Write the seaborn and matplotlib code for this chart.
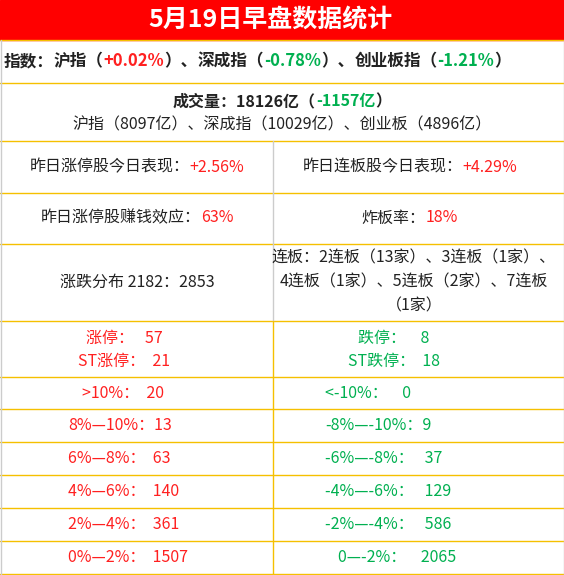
import matplotlib
matplotlib.use("Agg")
import matplotlib.pyplot as plt
import seaborn as sns

sns.set_style("white")
plt.rcParams['font.family'] = ['Noto Sans CJK SC', 'DejaVu Sans']

RED = '#ff2020'
GREEN = '#00b050'
BLACK = '#222222'
GOLD = '#f5c000'
GREY = '#cccccc'
FS = 11.5

title = '5月19日早盘数据统计'
index_names = ['沪指', '深成指', '创业板指']
index_changes = ['+0.02%', '-0.78%', '-1.21%']
volume_total = '18126亿'
volume_change = '-1157亿'
volume_parts = ['沪指（8097亿）', '深成指（10029亿）', '创业板（4896亿）']
yest_limit_perf = '+2.56%'
yest_board_perf = '+4.29%'
money_effect = '63%'
break_rate = '18%'
up_down = '2182：2853'
lianban = ['连板：2连板（13家）、3连板（1家）、', '4连板（1家）、5连板（2家）、7连板', '（1家）']
limit_up = ['涨停：   57', 'ST涨停：  21']
limit_down = ['跌停：    8', 'ST跌停：  18']
up_bins = ['>10%：  20', '8%—10%：13', '6%—8%：  63', '4%—6%：  140', '2%—4%：  361', '0%—2%：  1507']
down_bins = ['<-10%：    0', '-8%—-10%：9', '-6%—-8%：   37', '-4%—-6%：   129', '-2%—-4%：   586', '0—-2%：    2065']

fig = plt.figure(figsize=(5.64, 5.75), dpi=100)
ax = fig.add_axes([0, 0, 1, 1])
ax.set_xlim(0, 564)
ax.set_ylim(575, 0)
ax.axis('off')
fig.canvas.draw()
renderer = fig.canvas.get_renderer()


def segs(x, y, parts, size=FS, ha='center'):
    # parts: list of (text, colour, weight); drawn side by side
    arts = []
    for s, c, w in parts:
        t = ax.text(0, y, s, color=c, fontsize=size, fontweight=w, va='center', ha='left')
        arts.append(t)
    widths = [t.get_window_extent(renderer).width for t in arts]
    total = sum(widths)
    cur = x - total / 2 if ha == 'center' else x
    for t, w in zip(arts, widths):
        t.set_x(cur)
        cur += w


# title bar
ax.add_patch(plt.Rectangle((0, 0), 564, 40, color='#ff0000'))
ax.text(270, 20, title, color='white', fontsize=18, fontweight='bold', ha='center', va='center')

# index row
parts = [('指数：', BLACK, 'bold')]
for i, (n, c) in enumerate(zip(index_names, index_changes)):
    parts.append((n + '（', BLACK, 'bold'))
    parts.append((c, RED if c.startswith('+') else GREEN, 'bold'))
    parts.append(('）' + ('、' if i < 2 else ''), BLACK, 'bold'))
segs(4, 61, parts, size=12, ha='left')

# volume
segs(282, 101, [('成交量：' + volume_total + '（', BLACK, 'bold'), (volume_change, GREEN, 'bold'), ('）', BLACK, 'bold')])
ax.text(282, 125, '、'.join(volume_parts), color=BLACK, fontsize=FS, ha='center', va='center')

segs(137, 167, [('昨日涨停股今日表现：', BLACK, 'normal'), (yest_limit_perf, RED, 'normal')])
segs(410, 167, [('昨日连板股今日表现：', BLACK, 'normal'), (yest_board_perf, RED, 'normal')])
segs(137, 218, [('昨日涨停股赚钱效应：', BLACK, 'normal'), (money_effect, RED, 'normal')])
segs(410, 218, [('炸板率：', BLACK, 'normal'), (break_rate, RED, 'normal')])
ax.text(137, 282, '涨跌分布 ' + up_down, color=BLACK, fontsize=FS, ha='center', va='center')
for i, s in enumerate(lianban):
    ax.text(414, 258 + i * 24, s, color=BLACK, fontsize=FS, ha='center', va='center')

for i, s in enumerate(limit_up):
    ax.text(124, 338 + i * 23, s, color=RED, fontsize=FS, ha='center', va='center')
for i, s in enumerate(limit_down):
    ax.text(394, 338 + i * 23, s, color=GREEN, fontsize=FS, ha='center', va='center')

row_top = [377, 409, 442, 475, 508, 541]
for i, (u, d) in enumerate(zip(up_bins, down_bins)):
    yc = row_top[i] + 16.5
    ax.text(68 if i else 82, yc, u, color=RED, fontsize=FS, ha='left', va='center')
    ax.text(325 if i < 5 else 338, yc, d, color=GREEN, fontsize=FS, ha='left', va='center')

# grid lines
for y in [40, 83, 141, 193, 244, 321, 377, 409, 442, 475, 508, 541, 574]:
    ax.plot([0, 564], [y, y], color=GOLD, lw=1)
ax.plot([273, 273], [141, 321], color=GREY, lw=1)
ax.plot([273, 273], [321, 575], color=GOLD, lw=1)
ax.plot([0.5, 0.5], [40, 575], color=GREY, lw=1)
ax.plot([563.5, 563.5], [40, 575], color=GREY, lw=1)

fig.savefig('out.png', dpi=100)
